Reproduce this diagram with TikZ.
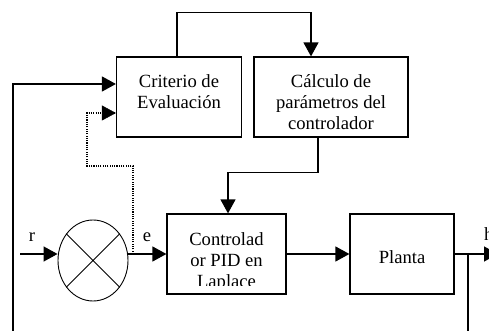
\documentclass[tikz,border=0pt]{standalone}
\usepackage{fontspec}
\setmainfont{Liberation Serif}
\usetikzlibrary{shapes.geometric, arrows.meta, positioning, calc}

\tikzset{
  blk/.style={draw, line width=1.2pt, minimum height=80pt, inner sep=0pt},
  txt/.style={align=center, inner sep=0pt, font=\fontsize{18.6}{21}\selectfont},
  lbl/.style={anchor=base, inner sep=0pt, font=\fontsize{18.6}{21}\selectfont},
  arr/.style={line width=1.3pt, -{Triangle[length=14pt,width=15pt]}},
  wire/.style={line width=1.3pt},
  dotline/.style={line width=1.1pt, dash pattern=on 1.1pt off 1.2pt}
}

\begin{document}
\begin{tikzpicture}[x=1pt,y=1pt]
\useasboundingbox (0,0) rectangle (489,331);

% Blocks
\node[blk, minimum width=125pt] (crit) at (179,234) {};
\node[blk, minimum width=154pt] (calc) at (331,234) {};
\node[blk, minimum width=119pt] (ctrl) at (226.5,77) {};
\node[blk, minimum width=104pt] (plant) at (402,77) {};
\node[draw, ellipse, line width=0.9pt, minimum width=70pt, minimum height=81pt, inner sep=0pt] (sum) at (93,70.5) {};
\draw[line width=0.9pt] (sum.45) -- (sum.225) (sum.135) -- (sum.315);

% Texts
\node[txt, below=18pt of crit.north] (crittxt) {Criterio de\\Evaluación};
\node[txt, below=17.5pt of calc.north] (calctxt) {Cálculo de\\parámetros del\\controlador};
\begin{scope}
\clip (ctrl.north west) rectangle ([yshift=9.5pt]ctrl.south east);
\node[txt, below=19pt of ctrl.north] (ctrltxt) {Controlad\\or PID en\\Laplace};
\end{scope}
\node[lbl] (planttxt) at ([yshift=-10pt]plant.center) {Planta};

% Signals
\coordinate (rin) at (20,77);
\coordinate (hout) at (498,77);
\node[lbl] (rlbl) at (32,89) {r};
\node[lbl] (elbl) at (147,89) {e};
\node[lbl, anchor=base west] (hlbl) at (484,90) {h};
\draw[arr] (rin) -- (rin -| sum.west);
\draw[arr] (sum.east |- ctrl.west) -- (ctrl.west);
\draw[arr] (ctrl.east) -- (plant.west);
\draw[arr] (plant.east) -- (hout);

% Feedback
\coordinate (tap) at (468,77);
\draw[wire] ([yshift=1pt]tap) -- (468,-5);
\coordinate (fbin) at (13,-5);
\draw[arr] (fbin) |- ([yshift=13pt]crit.west);
\draw[dotline] (133,77) |- (87,165) |- ([yshift=-16pt]crit.west);
\draw[-{Triangle[length=14pt,width=15pt]}] ([xshift=-2pt, yshift=-16pt]crit.west) -- ([yshift=-16pt]crit.west);

% Tuning loop
\draw[arr] ([xshift=-2pt]crit.north) -- ++(0,44) -| ([xshift=-20pt]calc.north);
\draw[arr] ([xshift=-13pt]calc.south) -- ++(0,-35) -| ([xshift=1.5pt]ctrl.north);
\end{tikzpicture}
\end{document}
